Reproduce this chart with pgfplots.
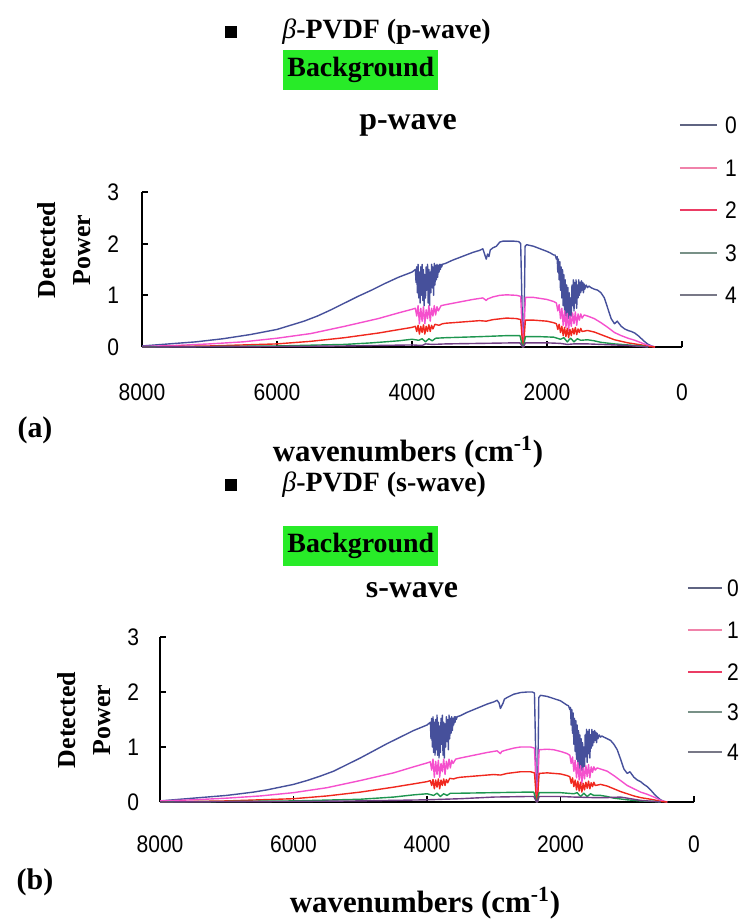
\documentclass[border=0pt]{standalone}
\usepackage{pgfplots}
\pgfplotsset{compat=1.18}
\usepackage{fontspec}
\setmainfont{Liberation Serif}
\newfontfamily\sansf{Liberation Sans}
\definecolor{s0}{RGB}{70,80,155}
\definecolor{s1}{RGB}{245,80,205}
\definecolor{s2}{RGB}{240,40,30}
\definecolor{s3}{RGB}{30,150,80}
\definecolor{s4}{RGB}{110,60,130}
\definecolor{l0}{RGB}{95,100,130}
\definecolor{l1}{RGB}{240,130,170}
\definecolor{l2}{RGB}{235,60,100}
\definecolor{l3}{RGB}{120,145,135}
\definecolor{l4}{RGB}{120,120,135}
\definecolor{bggreen}{RGB}{40,235,40}
\newcommand{\tickfont}{\sansf\fontsize{12}{14}\selectfont}
\newcommand{\nar}[1]{\scalebox{0.88}[1]{#1}}
\pgfplotsset{specax/.style={
  scale only axis, xmin=-8000, xmax=0, ymin=0, ymax=3,
  x filter/.expression={-x},
  axis x line=bottom, axis y line=left,
  axis line style={-, line width=0.9bp, black},
  tick align=inside, major tick length=3bp,
  tick style={black, line width=0.9bp},
  xtick={-8000,-6000,-4000,-2000,0},
  xticklabels={\nar{8000},\nar{6000},\nar{4000},\nar{2000},\nar{0}},
  ytick={0,1,2,3}, yticklabels={\nar{0},\nar{1},\nar{2},\nar{3}},
  tick label style={font=\tickfont},
  every axis plot/.append style={line width=0.7bp, line join=round},
}}
\begin{document}
\begin{tikzpicture}
\useasboundingbox (0,0) rectangle (370bp,-461bp);
% ---------------- top panel (p-wave) ----------------
\begin{axis}[specax, at={(206bp,-134.75bp)}, anchor=center,
  width=270bp, height=77.5bp,
  xticklabel style={yshift=-14.7bp}, yticklabel style={xshift=-8bp}]
\addplot[s0] coordinates {(8000,0.02)(7800,0.04)(7600,0.06)(7400,0.08)(7200,0.10)(7000,0.13)(6800,0.16)(6600,0.20)(6400,0.24)(6200,0.29)(6000,0.34)(5800,0.42)(5600,0.50)(5400,0.60)(5200,0.72)(5000,0.85)(4800,0.98)(4600,1.10)(4400,1.23)(4200,1.35)(4000,1.45)
(3950,1.50)(3940,1.25)(3930,1.55)(3920,1.05)(3910,1.60)(3900,0.95)(3890,1.45)(3880,0.85)(3870,1.55)(3860,1.00)(3850,1.60)(3840,0.90)(3830,1.50)(3820,0.80)(3810,1.40)(3800,0.95)(3790,1.55)(3780,1.10)(3770,1.60)(3760,0.85)(3750,1.50)(3740,0.80)(3730,1.45)(3720,1.05)(3710,1.60)(3700,1.15)(3690,1.55)(3680,1.00)(3670,1.62)(3660,1.20)(3650,1.58)(3640,1.30)(3630,1.60)(3620,1.35)(3610,1.58)(3600,1.45)(3590,1.60)(3580,1.50)(3570,1.60)(3560,1.55)(3550,1.60)
(3500,1.62)(3400,1.68)(3300,1.73)(3200,1.78)(3100,1.83)(3000,1.87)(2950,1.90)(2920,1.78)(2900,1.70)(2880,1.80)(2860,1.75)(2840,1.88)(2800,1.92)(2750,1.95)(2700,2.03)(2650,2.05)(2500,2.05)(2420,2.04)(2390,2.00)(2370,0.80)(2360,0.02)(2345,0.02)(2335,0.90)(2325,1.95)(2300,1.98)(2200,1.95)(2100,1.90)(2000,1.85)(1950,1.82)(1900,1.78)
(1880,1.78)(1860,1.70)(1850,1.75)(1840,1.45)(1830,1.70)(1820,1.30)(1810,1.65)(1800,1.10)(1790,1.55)(1780,0.95)(1770,1.50)(1760,0.80)(1750,1.40)(1740,0.70)(1730,1.30)(1720,0.60)(1710,1.20)(1700,0.50)(1690,1.15)(1680,0.55)(1670,1.05)(1660,0.45)(1650,0.95)(1640,0.60)(1630,1.20)(1620,0.80)(1610,1.30)(1600,0.70)(1590,1.25)(1580,0.85)(1570,1.30)(1560,0.75)(1550,1.20)(1540,0.95)(1530,1.30)(1520,1.00)(1510,1.25)(1500,1.05)(1490,1.28)(1480,1.10)(1470,1.25)(1460,1.05)(1450,1.22)(1440,1.12)(1420,1.20)(1400,1.15)(1380,1.18)(1350,1.15)
(1300,1.12)(1250,1.10)(1200,1.05)(1150,0.95)(1100,0.75)(1050,0.55)(1000,0.45)(960,0.50)(930,0.45)(900,0.40)(850,0.35)(800,0.32)(750,0.30)(700,0.27)(650,0.22)(600,0.16)(550,0.10)(500,0.05)(450,0.02)(400,0.00)};
\addplot[s1] coordinates {(8000,0.01)(7500,0.03)(7000,0.06)(6500,0.10)(6000,0.17)(5500,0.26)(5000,0.40)(4500,0.55)(4200,0.66)(4000,0.73)(3950,0.75)(3930,0.60)(3910,0.80)(3890,0.45)(3870,0.75)(3850,0.50)(3830,0.78)(3810,0.45)(3790,0.72)(3770,0.55)(3750,0.80)(3730,0.50)(3710,0.75)(3690,0.60)(3670,0.80)(3650,0.62)(3630,0.78)(3610,0.70)(3570,0.80)(3500,0.82)(3300,0.87)(3100,0.92)(2950,0.95)(2900,0.90)(2880,0.93)(2800,0.97)(2700,1.00)(2600,1.01)(2450,1.00)(2390,0.98)(2370,0.40)(2360,0.01)(2345,0.01)(2335,0.50)(2320,0.96)(2200,0.96)(2100,0.94)(2000,0.92)(1900,0.88)(1860,0.85)(1840,0.70)(1820,0.82)(1800,0.55)(1780,0.75)(1760,0.42)(1740,0.70)(1720,0.38)(1700,0.65)(1680,0.32)(1660,0.60)(1640,0.40)(1620,0.66)(1600,0.45)(1580,0.68)(1560,0.42)(1540,0.64)(1520,0.52)(1500,0.64)(1480,0.56)(1450,0.62)(1400,0.60)(1300,0.55)(1200,0.47)(1100,0.38)(1000,0.28)(900,0.22)(800,0.17)(700,0.13)(600,0.08)(500,0.03)(400,0.00)};
\addplot[s2] coordinates {(8000,0.00)(7000,0.02)(6000,0.06)(5500,0.11)(5000,0.18)(4500,0.27)(4000,0.38)(3950,0.40)(3930,0.30)(3910,0.42)(3890,0.25)(3870,0.40)(3850,0.28)(3830,0.43)(3810,0.25)(3790,0.40)(3770,0.30)(3750,0.43)(3730,0.30)(3710,0.42)(3690,0.35)(3660,0.44)(3600,0.42)(3550,0.45)(3500,0.46)(3200,0.49)(3000,0.51)(2900,0.50)(2800,0.53)(2600,0.56)(2450,0.55)(2390,0.53)(2370,0.20)(2360,0.00)(2345,0.00)(2335,0.25)(2320,0.52)(2200,0.52)(2000,0.50)(1900,0.47)(1860,0.45)(1840,0.34)(1820,0.44)(1800,0.28)(1780,0.40)(1760,0.22)(1740,0.38)(1720,0.20)(1700,0.36)(1680,0.18)(1660,0.34)(1640,0.22)(1620,0.36)(1600,0.25)(1580,0.38)(1560,0.24)(1540,0.35)(1520,0.28)(1500,0.36)(1480,0.30)(1400,0.32)(1300,0.29)(1200,0.24)(1100,0.19)(1000,0.14)(900,0.11)(800,0.08)(700,0.06)(600,0.04)(500,0.01)(400,0.00)};
\addplot[s3] coordinates {(8000,0.00)(7000,0.01)(6000,0.02)(5000,0.05)(4600,0.08)(4200,0.12)(4000,0.15)(3900,0.13)(3850,0.16)(3800,0.10)(3750,0.16)(3700,0.12)(3650,0.17)(3500,0.18)(3000,0.20)(2600,0.22)(2400,0.22)(2370,0.05)(2360,0.00)(2345,0.00)(2335,0.10)(2320,0.20)(2100,0.20)(1900,0.19)(1800,0.15)(1750,0.18)(1700,0.10)(1650,0.17)(1600,0.10)(1550,0.16)(1500,0.13)(1400,0.14)(1300,0.12)(1200,0.09)(1000,0.06)(800,0.04)(600,0.02)(500,0.00)};
\addplot[s4] coordinates {(8000,0.00)(6000,0.01)(5000,0.02)(4000,0.04)(3850,0.03)(3800,0.06)(3700,0.05)(3500,0.06)(3000,0.07)(2500,0.08)(2400,0.08)(2370,0.02)(2360,0.00)(2345,0.00)(2335,0.04)(2320,0.08)(2000,0.08)(1800,0.07)(1700,0.05)(1600,0.06)(1400,0.06)(1200,0.05)(1000,0.04)(800,0.03)(600,0.01)(500,0.00)};
\end{axis}
% ---------------- bottom panel (s-wave) ----------------
\begin{axis}[specax, at={(213.5bp,-359.75bp)}, anchor=center,
  width=267bp, height=82.5bp,
  xticklabel style={yshift=-13.2bp}, yticklabel style={xshift=-7bp}]
\addplot[s0] coordinates {(8000,0.02)(7800,0.04)(7600,0.06)(7400,0.08)(7200,0.10)(7000,0.12)(6800,0.15)(6600,0.18)(6400,0.22)(6200,0.27)(6000,0.32)(5800,0.39)(5600,0.47)(5400,0.56)(5200,0.68)(5000,0.80)(4800,0.93)(4600,1.06)(4400,1.18)(4200,1.30)(4000,1.40)
(3950,1.45)(3940,1.15)(3930,1.52)(3920,1.00)(3910,1.55)(3900,0.90)(3890,1.45)(3880,0.85)(3870,1.50)(3860,0.95)(3850,1.58)(3840,0.85)(3830,1.45)(3820,0.80)(3810,1.38)(3800,0.90)(3790,1.52)(3780,1.05)(3770,1.58)(3760,0.85)(3750,1.45)(3740,0.80)(3730,1.42)(3720,1.00)(3710,1.55)(3700,1.10)(3690,1.50)(3680,0.95)(3670,1.58)(3660,1.15)(3650,1.52)(3640,1.25)(3630,1.55)(3620,1.30)(3610,1.52)(3600,1.40)(3590,1.55)(3580,1.45)(3570,1.55)(3560,1.50)(3550,1.55)
(3500,1.57)(3400,1.63)(3300,1.68)(3200,1.73)(3100,1.78)(3000,1.82)(2950,1.85)(2920,1.80)(2900,1.70)(2880,1.75)(2860,1.80)(2840,1.87)(2800,1.90)(2700,1.96)(2600,1.99)(2500,2.00)(2420,2.00)(2390,1.98)(2370,0.80)(2360,0.02)(2345,0.02)(2335,0.90)(2325,1.90)(2300,1.94)(2200,1.92)(2100,1.88)(2000,1.84)(1950,1.80)(1900,1.76)
(1880,1.75)(1860,1.68)(1850,1.72)(1840,1.40)(1830,1.68)(1820,1.25)(1810,1.62)(1800,1.05)(1790,1.52)(1780,0.92)(1770,1.48)(1760,0.78)(1750,1.40)(1740,0.68)(1730,1.30)(1720,0.60)(1710,1.22)(1700,0.55)(1690,1.15)(1680,0.58)(1670,1.08)(1660,0.50)(1650,1.00)(1640,0.65)(1630,1.22)(1620,0.82)(1610,1.32)(1600,0.72)(1590,1.28)(1580,0.88)(1570,1.32)(1560,0.80)(1550,1.22)(1540,0.98)(1530,1.32)(1520,1.02)(1510,1.28)(1500,1.08)(1490,1.30)(1480,1.12)(1470,1.27)(1460,1.08)(1450,1.25)(1440,1.15)(1420,1.22)(1400,1.18)(1380,1.20)(1350,1.18)
(1300,1.15)(1250,1.12)(1200,1.05)(1150,0.95)(1100,0.78)(1050,0.60)(1000,0.52)(960,0.55)(930,0.50)(900,0.45)(850,0.40)(800,0.37)(750,0.32)(700,0.28)(650,0.22)(600,0.15)(550,0.09)(500,0.04)(450,0.01)(400,0.00)};
\addplot[s1] coordinates {(8000,0.02)(7500,0.04)(7000,0.07)(6500,0.11)(6000,0.17)(5500,0.26)(5000,0.39)(4500,0.53)(4200,0.64)(4000,0.71)(3950,0.73)(3930,0.58)(3910,0.78)(3890,0.45)(3870,0.74)(3850,0.50)(3830,0.76)(3810,0.45)(3790,0.70)(3770,0.55)(3750,0.78)(3730,0.50)(3710,0.74)(3690,0.60)(3670,0.78)(3650,0.62)(3630,0.76)(3610,0.70)(3570,0.78)(3500,0.80)(3300,0.85)(3100,0.90)(2950,0.93)(2900,0.88)(2880,0.92)(2800,0.95)(2700,0.98)(2600,1.00)(2450,1.00)(2390,0.98)(2370,0.40)(2360,0.01)(2345,0.01)(2335,0.50)(2320,0.95)(2200,0.96)(2100,0.95)(2000,0.92)(1900,0.88)(1860,0.85)(1840,0.70)(1820,0.82)(1800,0.56)(1780,0.76)(1760,0.44)(1740,0.72)(1720,0.40)(1700,0.66)(1680,0.34)(1660,0.62)(1640,0.42)(1620,0.66)(1600,0.46)(1580,0.68)(1560,0.44)(1540,0.64)(1520,0.54)(1500,0.64)(1480,0.58)(1450,0.62)(1400,0.60)(1300,0.56)(1200,0.48)(1100,0.39)(1000,0.30)(900,0.24)(800,0.18)(700,0.14)(600,0.09)(500,0.03)(400,0.00)};
\addplot[s2] coordinates {(8000,0.00)(7000,0.02)(6000,0.06)(5500,0.11)(5000,0.18)(4500,0.27)(4000,0.37)(3950,0.39)(3930,0.30)(3910,0.41)(3890,0.24)(3870,0.40)(3850,0.27)(3830,0.42)(3810,0.24)(3790,0.40)(3770,0.30)(3750,0.42)(3730,0.30)(3710,0.41)(3690,0.35)(3660,0.43)(3600,0.42)(3550,0.44)(3500,0.45)(3200,0.48)(3000,0.50)(2900,0.49)(2800,0.52)(2600,0.55)(2450,0.55)(2390,0.53)(2370,0.20)(2360,0.00)(2345,0.00)(2335,0.25)(2320,0.52)(2200,0.53)(2000,0.51)(1900,0.48)(1860,0.46)(1840,0.34)(1820,0.44)(1800,0.28)(1780,0.40)(1760,0.22)(1740,0.38)(1720,0.20)(1700,0.36)(1680,0.18)(1660,0.34)(1640,0.22)(1620,0.36)(1600,0.25)(1580,0.38)(1560,0.24)(1540,0.35)(1520,0.28)(1500,0.36)(1480,0.30)(1400,0.32)(1300,0.29)(1200,0.24)(1100,0.19)(1000,0.15)(900,0.11)(800,0.08)(700,0.06)(600,0.04)(500,0.01)(400,0.00)};
\addplot[s3] coordinates {(8000,0.00)(7000,0.01)(6000,0.02)(5000,0.05)(4500,0.09)(4200,0.13)(4000,0.15)(3900,0.12)(3850,0.16)(3800,0.10)(3750,0.15)(3700,0.12)(3650,0.16)(3500,0.16)(3000,0.17)(2500,0.18)(2400,0.18)(2370,0.05)(2360,0.00)(2345,0.00)(2335,0.10)(2320,0.17)(2000,0.17)(1800,0.15)(1750,0.17)(1700,0.10)(1650,0.16)(1600,0.10)(1550,0.15)(1500,0.12)(1400,0.12)(1300,0.10)(1200,0.07)(1000,0.04)(800,0.02)(600,0.01)(500,0.00)};
\addplot[s4] coordinates {(8000,0.00)(6000,0.01)(5000,0.02)(4000,0.04)(3500,0.06)(3000,0.09)(2500,0.10)(2400,0.10)(2370,0.03)(2360,0.00)(2345,0.00)(2335,0.05)(2320,0.10)(2000,0.10)(1800,0.09)(1500,0.08)(1300,0.08)(1100,0.09)(1000,0.07)(800,0.03)(600,0.01)(500,0.00)};
\end{axis}
% ---------------- annotations (pixel frame) ----------------
\begin{scope}[x=0.5bp, y=-0.5bp]
\foreach \oy/\wv in {0/p-wave, 453/s-wave}{
  \node[fill=black, minimum size=6bp, inner sep=0] at (231,32+\oy) {};
  \node[anchor=west, inner sep=0, font=\fontsize{14}{16}\selectfont] at (282,32+\oy) {\textit{β}\textbf{-PVDF (\wv)}};
}
\node[anchor=west, fill=bggreen, inner xsep=2bp, inner ysep=3.5bp, font=\bfseries\fontsize{14}{16}\selectfont] at (283,70) {Background};
\node[anchor=west, fill=bggreen, inner xsep=2bp, inner ysep=3.5bp, font=\bfseries\fontsize{14}{16}\selectfont] at (283,546) {Background};
\node[font=\bfseries\fontsize{16}{18}\selectfont] at (408,125) {p-wave};
\node[font=\bfseries\fontsize{16}{18}\selectfont] at (412,590) {s-wave};
% legends
\foreach \yy/\cc/\lab in {125/l0/0,168/l1/1,210/l2/2,253/l3/3,295/l4/4}{
  \draw[\cc, line width=1.2bp] (680,\yy) -- (717,\yy);
  \node[font=\tickfont, inner sep=0] at (731,\yy) {\nar{\lab}};
}
\foreach \yy/\cc/\lab in {588/l0/0,630/l1/1,672/l2/2,712/l3/3,752/l4/4}{
  \draw[\cc, line width=1.2bp] (688,\yy) -- (722,\yy);
  \node[font=\tickfont, inner sep=0] at (733,\yy) {\nar{\lab}};
}
% y labels
\node[rotate=90, font=\bfseries\fontsize{13}{15}\selectfont] at (47,250) {Detected};
\node[rotate=90, font=\bfseries\fontsize{13}{15}\selectfont] at (82,250) {Power};
\node[rotate=90, font=\bfseries\fontsize{13}{15}\selectfont] at (67,720) {Detected};
\node[rotate=90, font=\bfseries\fontsize{13}{15}\selectfont] at (102,720) {Power};
% panel letters and x labels
\node[font=\bfseries\fontsize{15}{17}\selectfont] at (35,430) {(a)};
\node[font=\bfseries\fontsize{15}{17}\selectfont] at (35,882) {(b)};
\node[font=\bfseries\fontsize{15.5}{18}\selectfont] at (408,452) {wavenumbers (cm\textsuperscript{-1})};
\node[font=\bfseries\fontsize{15.5}{18}\selectfont] at (425,903) {wavenumbers (cm\textsuperscript{-1})};
\end{scope}
\end{tikzpicture}
\end{document}
